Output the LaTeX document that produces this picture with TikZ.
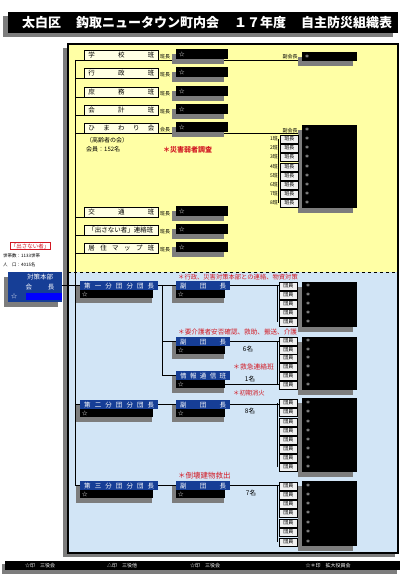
\documentclass[tikz,border=0pt]{standalone}
\usepackage{fontspec}
\setmainfont{Noto Sans CJK JP}
\usetikzlibrary{calc,shadows}
\pgfdeclarelayer{bg}\pgfdeclarelayer{ln}\pgfsetlayers{bg,ln,main}
\definecolor{ybg}{RGB}{255,255,165}
\definecolor{bbg}{RGB}{210,229,246}
\definecolor{hblue}{RGB}{22,62,150}
\definecolor{shd}{RGB}{125,125,125}
\definecolor{rtext}{RGB}{210,25,35}
\definecolor{lblfill}{RGB}{255,255,228}
\definecolor{memfill}{RGB}{240,240,240}
\newcommand{\grp}[5]{%
  \fill[shd] ({#2-4},{#3+5}) rectangle ({#2+#4-6},{#3+22});
  \node[hdr,minimum width={#4pt}] (#1) at (#2,#3) {\makebox[\dimexpr#4pt-8pt\relax][s]{#5}};
  \node[brow,minimum width={#4pt-5pt}] (#1b) at (#2,#3+9) {\makebox[\dimexpr#4pt-9pt\relax][l]{☆}};}
\begin{document}
\begin{tikzpicture}[x=1pt,y=-1pt,
 myshadow/.style={drop shadow={shadow xshift=-4pt,shadow yshift=-5pt,fill=shd,opacity=1}},
 sm/.style={inner sep=0pt,font=\fontsize{5}{5}\selectfont},
 lbl/.style={draw=black,line width=0.9pt,fill=lblfill,anchor=west,minimum width=74pt,minimum height=10pt,inner sep=0pt,font=\fontsize{6.5}{7}\selectfont},
 blk/.style={fill=black,text=white,anchor=west,minimum width=52pt,minimum height=10pt,inner sep=0pt,font=\fontsize{5.5}{6}\selectfont,myshadow},
 mem/.style={draw=black,line width=0.7pt,fill=memfill,anchor=west,minimum width=18pt,minimum height=8pt,inner sep=0pt,font=\fontsize{5}{5}\selectfont},
 hdr/.style={fill=hblue,text=white,anchor=north west,minimum height=9pt,inner sep=0pt,font=\fontsize{6.5}{7}\selectfont},
 brow/.style={fill=black,text=white,anchor=north west,minimum height=8pt,inner sep=0pt,font=\fontsize{5.5}{6}\selectfont},
 bigblk/.style={fill=black,anchor=north west,inner sep=0pt,myshadow},
 rednote/.style={text=rtext,anchor=west,inner sep=0pt,font=\fontsize{6.3}{7}\selectfont},
 wmark/.style={text=white,inner sep=0pt,font=\fontsize{5}{5}\selectfont},
 conn/.style={line width=0.9pt}]
\useasboundingbox (0,0) rectangle (406,577);
\begin{pgfonlayer}{bg}
\fill[white] (0,0) rectangle (406,577);
\fill[shd] (63,48) rectangle (395,557);
\fill[ybg] (68,44) rectangle (398,272);
\fill[bbg] (68,272) rectangle (398,553);
\draw[line width=1.5pt] (68,44) rectangle (398,553);
\draw[dashed,line width=0.8pt] (68,272) -- (398,272);
\end{pgfonlayer}
% title
\fill[shd] (3,16) rectangle (393,37);
\node[fill=black,text=white,anchor=north west,minimum width=390pt,minimum height=21pt,inner sep=0pt,font=\fontsize{13}{14}\selectfont\bfseries] (title) at (8,12) {\hspace{8pt}\makebox[370pt][s]{太白区\hfill 鈎取ニュータウン町内会\hfill １７年度\hfill 自主防災組織表}};
% yellow rows
\foreach \n/\yy/\t/\s in {1/55/{学\hfill 校\hfill 班}/班長,2/73/{行\hfill 政\hfill 班}/班長,3/92/{庶\hfill 務\hfill 班}/班長,4/110/{会\hfill 計\hfill 班}/班長,5/128/{ひ\hfill ま\hfill わ\hfill り\hfill 会}/会長,6/212/{交\hfill 通\hfill 班}/班長,7/230/{「出さない者」連絡班}/班長,8/248/{居\hfill 住\hfill マ\hfill ッ\hfill プ\hfill 班}/班長} {
  \node[lbl] (r\n) at (84,\yy) {\makebox[66pt][s]{\t}};
  \node[sm,anchor=south west] (s\n) at (160,\yy+4.5) {\s};
  \node[blk] (b\n) at (176,\yy-1) {\makebox[46pt][l]{☆}};
}
\coordinate (trTop) at (75,60);
\node[sm,anchor=west,font=\fontsize{6}{6}\selectfont] (hm1) at (86,140) {（高齢者の会）};
\node[sm,anchor=west,font=\fontsize{6}{6}\selectfont] (hm2) at (86,149) {会員：152名};
\node[rednote,font=\fontsize{7}{7}\selectfont\bfseries] (rn0) at (163,150) {＊災害弱者調査};
% vice presidents
\node[sm,anchor=south] (vp1) at (290,59.5) {副会長};
\node[bigblk,minimum width=55pt,minimum height=9pt] (vk1) at (302,52) {};
\node[wmark] (vw1) at (307,56.5) {＊};
\node[sm,anchor=south] (vp2) at (290,133) {副会長};
\node[bigblk,minimum width=55pt,minimum height=83pt] (vk2) at (302,125) {};
\node[wmark] (vw2) at (307,130) {＊};
\foreach \i/\yy in {1/139,2/148,3/157,4/167,5/176,6/185,7/194,8/203} {
  \node[mem] (h\i) at (280,\yy) {班長};
  \node[sm,anchor=east] (hn\i) at (278,\yy) {{\i}班};
  \node[wmark] (hw\i) at (307,\yy) {＊};
}
% left outside
\node[draw=rtext,text=rtext,inner sep=1pt,font=\fontsize{5.5}{6}\selectfont] (dasa) at (30,246) {「出さない者」};
\node[sm,anchor=west,font=\fontsize{4.5}{5}\selectfont] (setai) at (3,256) {世帯数：1133世帯};
\node[sm,anchor=west,font=\fontsize{4.5}{5}\selectfont] (jinko) at (3,265) {人　口：4015名};
\node[fill=hblue,anchor=north west,minimum width=54pt,minimum height=30pt,inner sep=0pt,myshadow] (hq) at (8,272) {};
\node[text=white,inner sep=0pt,font=\fontsize{6.5}{7}\selectfont] (hqt1) at (40,277.5) {対策本部};
\node[text=white,inner sep=0pt,font=\fontsize{6.5}{7}\selectfont] (hqt2) at (40,287) {会\hspace{16pt}長};
\fill[blue] (26,293) rectangle (62,300);
\node[wmark,font=\fontsize{6}{6}\selectfont] (hqs) at (14,296.5) {☆};
% blue groups
\grp{d1}{80}{281}{78}{第\hfill 一\hfill 分\hfill 団\hfill 分\hfill 団\hfill 長}
\grp{f1}{176}{281}{54}{副\hfill 団\hfill 長}
\grp{f2}{176}{337}{54}{副\hfill 団\hfill 長}
\grp{j}{176}{371}{54}{情\hfill 報\hfill 通\hfill 信\hfill 班}
\grp{d2}{80}{400}{78}{第\hfill 二\hfill 分\hfill 団\hfill 分\hfill 団\hfill 長}
\grp{f3}{176}{400}{54}{副\hfill 団\hfill 長}
\grp{d3}{80}{481}{78}{第\hfill 三\hfill 分\hfill 団\hfill 分\hfill 団\hfill 長}
\grp{f4}{176}{481}{54}{副\hfill 団\hfill 長}
\node[bigblk,minimum width=55pt,minimum height=45pt] (kA) at (302,282) {};
\foreach \i/\yy in {1/286,2/295,3/304,4/313,5/322} {\node[mem] (gA\i) at (279,\yy) {団員}; \node[wmark] (wA\i) at (308,\yy) {＊};}
\node[bigblk,minimum width=55pt,minimum height=53pt] (kB) at (302,337) {};
\foreach \i/\yy in {1/341,2/350,3/358,4/367,5/376,6/385} {\node[mem] (gB\i) at (279,\yy) {団員}; \node[wmark] (wB\i) at (308,\yy) {＊};}
\node[bigblk,minimum width=55pt,minimum height=74pt] (kC) at (302,398) {};
\foreach \i/\yy in {1/403,2/412,3/422,4/431,5/440,6/449,7/458,8/467} {\node[mem] (gC\i) at (279,\yy) {団員}; \node[wmark] (wC\i) at (308,\yy) {＊};}
\node[bigblk,minimum width=55pt,minimum height=65pt] (kD) at (302,481) {};
\foreach \i/\yy in {1/486,2/495,3/504,4/513,5/523,6/532,7/542} {\node[mem] (gD\i) at (279,\yy) {団員}; \node[wmark] (wD\i) at (308,\yy) {＊};}
% notes
\node[rednote] (rn1) at (178,277.5) {＊行政、災害対策本部との連絡、物資対策};
\node[rednote,font=\fontsize{6.6}{7}\selectfont] (rn2) at (178,332) {＊要介護者安否確認、救助、搬送、介護};
\node[rednote,font=\fontsize{6.8}{7}\selectfont] (rn3) at (233,367) {＊救急連絡班};
\node[rednote] (rn4) at (233,393) {＊初期消火};
\node[rednote,font=\fontsize{7.5}{8}\selectfont] (rn5) at (178,476) {＊倒壊建物救出};
\node[inner sep=0pt,font=\fontsize{6.5}{7}\selectfont] (n6) at (248,349) {6名};
\node[inner sep=0pt,font=\fontsize{6.5}{7}\selectfont] (n1) at (250,379) {1名};
\node[inner sep=0pt,font=\fontsize{6.5}{7}\selectfont] (n8) at (250,411) {8名};
\node[inner sep=0pt,font=\fontsize{6.5}{7}\selectfont] (n7) at (251,493) {7名};
% footer
\fill[shd] (2,564) rectangle (397,574);
\node[fill=black,anchor=north west,minimum width=395pt,minimum height=9pt,inner sep=0pt] (foot) at (5,561) {};
\node[wmark] (ft1) at (40,565.5) {☆印　三役会};
\node[wmark] (ft2) at (122,565.5) {△印　三役他};
\node[wmark] (ft3) at (205,565.5) {☆印　三役会};
\node[wmark] (ft4) at (328,565.5) {☆＊印　拡大役員会};
% connectors
\begin{pgfonlayer}{ln}
\draw[conn] (trTop) |- (d3.west);
\foreach \n in {2,3,4,6,7,8} \draw[conn] (r\n.south west -| trTop) -- (r\n.south west);
\draw[conn] (r1.south west -| trTop) -- (r1.south west -| vp1.east);
\draw[conn] (r5.south west -| trTop) -- (r5.south west -| vp2.east);
\draw[conn] (d1.west -| hq.east) -- (d1.west);
\draw[conn] (d2.west -| trTop) -- (d2.west);
\draw[conn] (d1.east) -- (f1.west);
\coordinate (t1) at ($(d1.east)+(4,0)$);
\draw[conn] (t1) |- (f2.west);
\draw[conn] (t1) |- (j.west);
\draw[conn] (d2.east) -- (f3.west);
\draw[conn] (d3.east) -- (f4.west);
\draw[conn] (f1.east) -- (f1.east -| gA1.west);
\draw[conn] (f2.east) -- (f2.east -| gB1.west);
\draw[conn] (jb.east) -- (jb.east -| gB6.west);
\draw[conn] (f3.east) -- (f3.east -| gC1.west);
\draw[conn] (f4.east) -- (f4.east -| gD1.west);
\draw[conn] ([xshift=-2pt]gA1.west) -- ([xshift=-2pt]gA5.west);
\draw[conn] ([xshift=-2pt]gB1.west) -- ([xshift=-2pt]gB6.west);
\draw[conn] ([xshift=-2pt]gC1.west) -- ([xshift=-2pt]gC8.west);
\draw[conn] ([xshift=-2pt]gD1.west) -- ([xshift=-2pt]gD7.west);
\draw[conn] ([xshift=-2pt]h1.west) -- ([xshift=-2pt]h8.west);
\end{pgfonlayer}
\end{tikzpicture}
\end{document}
